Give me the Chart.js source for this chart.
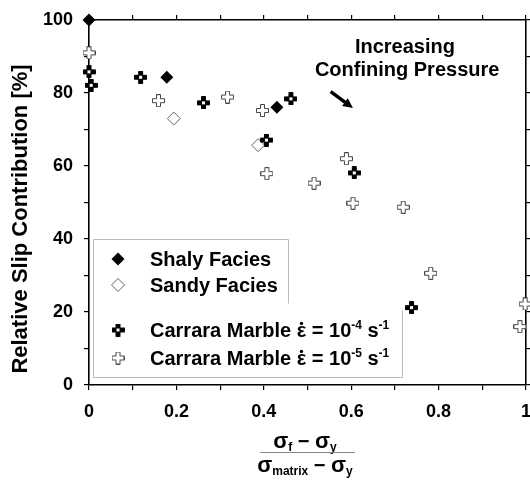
<!DOCTYPE html>
<html>
<head>
<meta charset="utf-8">
<script src="https://cdn.jsdelivr.net/npm/chart.js@4"></script>
<style>
html,body{margin:0;padding:0;background:#fff;}
#wrap{width:530px;height:480px;}
</style>
</head>
<body>
<div id="wrap"><canvas id="c" width="530" height="480"></canvas></div>
<script>
// ---- data ----
const shalyX = [0, 0.178, 0.430];
const shalyY = [100, 84.3, 76.1];
const sandyX = [0.194, 0.387];
const sandyY = [73.0, 65.7];
const marble4X = [0, 0.005, 0.118, 0.262, 0.406, 0.462, 0.607, 0.738];
const marble4Y = [85.8, 82.1, 84.3, 77.3, 67.1, 78.4, 58.1, 21.2];
const marble5X = [0, 0.159, 0.317, 0.397, 0.407, 0.515, 0.589, 0.604, 0.719, 0.782, 0.998, 0.986];
const marble5Y = [91.0, 77.9, 78.9, 75.2, 57.9, 55.3, 62.0, 49.8, 48.7, 30.6, 22.2, 16.0];
const xTickLabels = ['0', '0.2', '0.4', '0.6', '0.8', '1'];
const yTickLabels = ['0', '20', '40', '60', '80', '100'];
const seriesNames = ['Shaly Facies', 'Sandy Facies', 'Carrara Marble', 'Carrara Marble'];

const pts = (xs, ys) => xs.map((x, i) => ({x, y: ys[i]}));
const FONT = '"Liberation Sans", Arial, sans-serif';

function crossCanvas(filled) {
  const s = 13, c = document.createElement('canvas');
  c.width = s; c.height = s;
  const g = c.getContext('2d');
  const a = 4, b = 9;
  g.beginPath();
  g.moveTo(a + 0.5, 0.5); g.lineTo(b - 0.5, 0.5); g.lineTo(b - 0.5, a + 0.5);
  g.lineTo(s - 0.5, a + 0.5); g.lineTo(s - 0.5, b - 0.5); g.lineTo(b - 0.5, b - 0.5);
  g.lineTo(b - 0.5, s - 0.5); g.lineTo(a + 0.5, s - 0.5); g.lineTo(a + 0.5, b - 0.5);
  g.lineTo(0.5, b - 0.5); g.lineTo(0.5, a + 0.5); g.lineTo(a + 0.5, a + 0.5);
  g.closePath();
  if (filled) {
    g.fillStyle = '#000'; g.fill();
    g.strokeStyle = '#000'; g.lineWidth = 1; g.stroke();
    g.fillStyle = '#fff'; g.fillRect(5, 5, 3, 3);
  } else {
    g.fillStyle = '#fff'; g.fill();
    g.strokeStyle = '#444'; g.lineWidth = 1; g.stroke();
  }
  return c;
}
const filledCross = crossCanvas(true);
const openCross = crossCanvas(false);

function drawDiamond(ctx, x, y, r, filled) {
  ctx.beginPath();
  ctx.moveTo(x, y - r); ctx.lineTo(x + r, y); ctx.lineTo(x, y + r); ctx.lineTo(x - r, y); ctx.closePath();
  if (filled) { ctx.fillStyle = '#000'; ctx.fill(); }
  else { ctx.fillStyle = '#fff'; ctx.fill(); ctx.strokeStyle = '#666'; ctx.lineWidth = 1; ctx.stroke(); }
}

// draws text pieces: [text, size, dy, dotAbove]
function drawPieces(ctx, x, y, pieces) {
  let cx = x;
  for (const [t, size, dy, dot] of pieces) {
    ctx.font = 'bold ' + size + 'px ' + FONT;
    ctx.fillText(t, cx, y + dy);
    const w = ctx.measureText(t).width;
    if (dot) {
      ctx.beginPath();
      ctx.arc(cx + w / 2, y + dy - size * 0.68, 1.7, 0, Math.PI * 2);
      ctx.fill();
    }
    cx += w;
  }
  return cx;
}
function piecesWidth(ctx, pieces) {
  let w = 0;
  for (const [t, size] of pieces) { ctx.font = 'bold ' + size + 'px ' + FONT; w += ctx.measureText(t).width; }
  return w;
}

const extras = {
  id: 'extras',
  afterDraw(chart) {
    const ctx = chart.ctx, xs = chart.scales.x, ys = chart.scales.y;
    ctx.save();
    ctx.fillStyle = '#000';
    ctx.textBaseline = 'alphabetic';
    // annotation text
    ctx.font = 'bold 20px ' + FONT;
    ctx.textAlign = 'center';
    ctx.fillText('Increasing', xs.getPixelForValue(0.723), ys.getPixelForValue(91.0));
    ctx.fillText('Confining Pressure', xs.getPixelForValue(0.728), ys.getPixelForValue(84.6));
    // arrow
    const x1 = xs.getPixelForValue(0.553), y1 = ys.getPixelForValue(80.4);
    const x2 = xs.getPixelForValue(0.604), y2 = ys.getPixelForValue(75.9);
    const ang = Math.atan2(y2 - y1, x2 - x1);
    ctx.strokeStyle = '#000'; ctx.lineWidth = 3.5; ctx.lineCap = 'butt';
    ctx.beginPath(); ctx.moveTo(x1, y1);
    ctx.lineTo(x2 - 7 * Math.cos(ang), y2 - 7 * Math.sin(ang)); ctx.stroke();
    ctx.beginPath();
    ctx.moveTo(x2, y2);
    ctx.lineTo(x2 - 11 * Math.cos(ang - 0.45), y2 - 11 * Math.sin(ang - 0.45));
    ctx.lineTo(x2 - 11 * Math.cos(ang + 0.45), y2 - 11 * Math.sin(ang + 0.45));
    ctx.closePath(); ctx.fill();

    // legend
    ctx.textAlign = 'left';
    ctx.fillStyle = '#fff';
    ctx.fillRect(93, 239, 195, 66);
    ctx.fillRect(93, 305, 309, 72);
    ctx.strokeStyle = '#bbb'; ctx.lineWidth = 1;
    ctx.beginPath();
    ctx.moveTo(93.5, 239.5); ctx.lineTo(288.5, 239.5); ctx.lineTo(288.5, 303.5);
    ctx.moveTo(93.5, 239.5); ctx.lineTo(93.5, 377.5); ctx.lineTo(402.5, 377.5); ctx.lineTo(402.5, 310.5);
    ctx.stroke();
    const mx = 118;
    drawDiamond(ctx, mx, 259, 6.5, true);
    drawDiamond(ctx, mx, 285, 6.5, false);
    ctx.drawImage(filledCross, mx - 6.5, 330 - 6.5);
    ctx.drawImage(openCross, mx - 6.5, 358 - 6.5);
    ctx.fillStyle = '#000';
    ctx.font = 'bold 20px ' + FONT;
    ctx.fillText(seriesNames[0], 150, 266);
    ctx.fillText(seriesNames[1], 150, 292);
    drawPieces(ctx, 150, 337, [[seriesNames[2] + ' ', 20, 0], ['\u03B5', 20, 0, true], [' = 10', 20, 0], ['-4', 12, -8], [' s', 20, 0], ['-1', 12, -8]]);
    drawPieces(ctx, 150, 365, [[seriesNames[3] + ' ', 20, 0], ['\u03B5', 20, 0, true], [' = 10', 20, 0], ['-5', 12, -8], [' s', 20, 0], ['-1', 12, -8]]);

    // x-axis title as a fraction
    const cxm = 305;
    const num = [['\u03C3', 22, 0], ['f', 12, 3], [' \u2212 ', 20, 0], ['\u03C3', 22, 0], ['y', 12, 3]];
    const den = [['\u03C3', 22, 0], ['matrix', 12, 3], [' \u2212 ', 20, 0], ['\u03C3', 22, 0], ['y', 12, 3]];
    drawPieces(ctx, cxm - piecesWidth(ctx, num) / 2, 448, num);
    drawPieces(ctx, cxm - piecesWidth(ctx, den) / 2, 472, den);
    ctx.strokeStyle = '#888'; ctx.lineWidth = 1;
    ctx.beginPath(); ctx.moveTo(260, 452.5); ctx.lineTo(355, 452.5); ctx.stroke();

    // y-axis title
    ctx.save();
    ctx.translate(27, 219);
    ctx.rotate(-Math.PI / 2);
    ctx.textAlign = 'center';
    ctx.font = 'bold 22px ' + FONT;
    ctx.fillText('Relative Slip Contribution [%]', 0, 0);
    ctx.restore();
    ctx.restore();
  }
};

const gridCommon = {drawOnChartArea: false, color: '#000', lineWidth: 1.2, tickLength: 5, tickColor: '#000'};
const borderCommon = {display: true, color: '#000', width: 1.6};

const xLabel = v => { const k = Math.round(v * 10); return k % 2 === 0 ? xTickLabels[k / 2] : ''; };
const yLabel = v => { const k = Math.round(v / 10); return k % 2 === 0 ? yTickLabels[k / 2] : ''; };
const noPad = s => { s.paddingLeft = 0; s.paddingRight = 0; s.paddingTop = 0; s.paddingBottom = 0; };

new Chart(document.getElementById('c'), {
  type: 'scatter',
  data: {
    datasets: [
      {label: seriesNames[0], data: pts(shalyX, shalyY), pointStyle: 'rectRot', pointRadius: 6.5, backgroundColor: '#000', borderColor: '#000', borderWidth: 0, clip: false},
      {label: seriesNames[2], data: pts(marble4X, marble4Y), pointStyle: filledCross, clip: false},
      {label: seriesNames[1], data: pts(sandyX, sandyY), pointStyle: 'rectRot', pointRadius: 6.5, backgroundColor: '#fff', borderColor: '#666', borderWidth: 1, clip: false},
      {label: seriesNames[3], data: pts(marble5X, marble5Y), pointStyle: openCross, clip: false}
    ]
  },
  options: {
    responsive: false,
    animation: false,
    events: [],
    layout: {padding: 0, autoPadding: false},
    plugins: {legend: {display: false}, tooltip: {enabled: false}},
    scales: {
      x: {
        type: 'linear', position: 'bottom', min: 0, max: 1,
        ticks: {stepSize: 0.1, autoSkip: false, maxRotation: 0, color: '#000', padding: 11,
          font: {family: FONT, size: 18, weight: 'bold'}, callback: xLabel},
        grid: gridCommon, border: borderCommon,
        afterFit: s => { s.height = 95; noPad(s); }
      },
      x2: {
        type: 'linear', position: 'top', min: 0, max: 1,
        ticks: {stepSize: 0.1, autoSkip: false, maxRotation: 0, callback: () => ''},
        grid: gridCommon, border: borderCommon,
        afterFit: s => { s.height = 20; noPad(s); }
      },
      y: {
        type: 'linear', position: 'left', min: 0, max: 100,
        ticks: {stepSize: 10, autoSkip: false, color: '#000', padding: 11,
          font: {family: FONT, size: 18, weight: 'bold'}, callback: yLabel},
        grid: gridCommon, border: borderCommon,
        afterFit: s => { s.width = 89; noPad(s); }
      },
      y2: {
        type: 'linear', position: 'right', min: 0, max: 100,
        ticks: {stepSize: 10, autoSkip: false, callback: () => ''},
        grid: gridCommon, border: borderCommon,
        afterFit: s => { s.width = 4; noPad(s); }
      }
    }
  },
  plugins: [extras]
});
</script>
</body>
</html>
